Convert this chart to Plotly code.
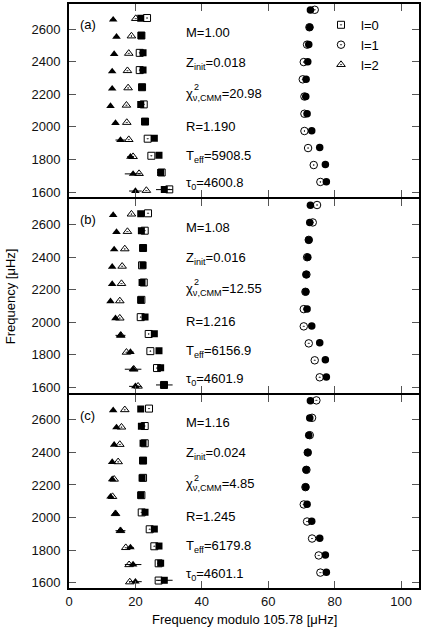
import plotly.graph_objects as go

# ---------------- data ----------------
# observed modes (filled symbols, with x error bars) - same in every panel
obs_l0_x = [28.7, 27.6, 27.1, 25.7, 22.9, 21.6, 22.0, 22.3, 22.3, 21.8, 21.6]
obs_l0_y = [1615.4, 1720.1, 1825.4, 1929.7, 2032.7, 2137.2, 2243.4, 2349.5, 2455.3, 2560.6, 2666.1]
obs_l0_err = [2.5, 1.0, 0.9, 0.8, 0.6, 0.5, 0.5, 0.5, 0.6, 0.8, 0.8]

obs_l1_x = [77.5, 77.2, 75.5, 73.1, 71.7, 71.3, 71.4, 71.9, 72.2, 72.5, 72.7]
obs_l1_y = [1664.2, 1769.7, 1873.8, 1977.1, 2081.5, 2186.9, 2292.8, 2399.1, 2505.2, 2611.3, 2717.2]
obs_l1_err = [0.8, 0.6, 0.5, 0.5, 0.4, 0.4, 0.4, 0.4, 0.5, 0.5, 0.6]

obs_l2_x = [20.0, 19.3, 18.5, 15.5, 14.0, 12.5, 13.0, 13.0, 13.6, 14.3, 13.3]
obs_l2_y = [1606.7, 1711.8, 1816.8, 1919.5, 2023.8, 2128.1, 2234.4, 2340.2, 2446.6, 2553.1, 2657.8]
obs_l2_err = [1.9, 2.5, 1.0, 1.5, 0.8, 0.6, 0.6, 0.6, 0.6, 0.8, 0.8]

# model modes (open symbols), panel (a)
a_l0_x = [30.2, 27.9, 24.8, 23.7, 22.9, 22.5, 22.0, 21.3, 21.3, 21.8, 23.5]
a_l0_y = [1616.9, 1720.4, 1823.1, 1927.7, 2032.7, 2138.1, 2243.4, 2348.5, 2454.3, 2560.6, 2668.0]
a_l1_x = [75.7, 73.7, 72.0, 70.9, 70.9, 70.9, 70.4, 70.7, 71.7, 72.4, 74.0]
a_l1_y = [1662.4, 1766.2, 1870.3, 1974.9, 2080.7, 2186.5, 2291.8, 2397.9, 2504.7, 2611.2, 2718.5]
a_l2_x = [23.3, 21.1, 19.3, 18.0, 17.4, 17.3, 17.8, 17.6, 18.0, 18.8, 20.1]
a_l2_y = [1610.0, 1713.6, 1817.6, 1922.0, 2027.2, 2132.9, 2239.2, 2344.8, 2451.0, 2557.6, 2664.6]

# panel (b)
b_l0_x = [28.6, 26.5, 24.5, 24.0, 21.6, 21.8, 22.5, 22.0, 22.3, 22.8, 23.8]
b_l0_y = [1615.3, 1719.0, 1822.8, 1928.0, 2031.4, 2137.4, 2243.9, 2349.2, 2455.3, 2561.6, 2668.3]
b_l1_x = [75.5, 74.0, 72.2, 70.7, 70.7, 71.2, 71.5, 71.7, 72.2, 73.4, 74.7]
b_l1_y = [1662.2, 1766.5, 1870.5, 1974.7, 2080.5, 2186.8, 2292.9, 2398.9, 2505.2, 2612.2, 2719.2]
b_l2_x = [20.8, 19.5, 17.3, 15.6, 15.3, 15.3, 15.8, 16.0, 16.8, 17.6, 18.8]
b_l2_y = [1607.5, 1712.0, 1815.6, 1919.6, 2025.1, 2130.9, 2237.2, 2343.2, 2449.8, 2556.4, 2663.3]

# panel (c)
c_l0_x = [27.0, 27.0, 25.7, 24.3, 21.9, 21.8, 22.3, 22.3, 22.8, 22.8, 24.1]
c_l0_y = [1613.7, 1719.5, 1824.0, 1928.3, 2031.7, 2137.4, 2243.7, 2349.5, 2455.8, 2561.6, 2668.6]
c_l1_x = [75.7, 75.2, 73.2, 71.7, 70.7, 71.2, 71.5, 71.9, 72.5, 73.2, 74.5]
c_l1_y = [1662.4, 1767.7, 1871.5, 1975.7, 2080.5, 2186.8, 2292.9, 2399.1, 2505.5, 2612.0, 2719.0]
c_l2_x = [18.3, 18.1, 17.1, 15.5, 14.0, 13.1, 13.6, 14.8, 15.3, 15.8, 16.8]
c_l2_y = [1605.0, 1710.6, 1815.4, 1919.5, 2023.8, 2128.7, 2235.0, 2342.0, 2448.3, 2554.6, 2661.3]

panel_labels = ["(a)", "(b)", "(c)"]
param_M = ["1.00", "1.08", "1.16"]
param_Z = ["0.018", "0.016", "0.024"]
param_chi = ["20.98", "12.55", "4.85"]
param_R = ["1.190", "1.216", "1.245"]
param_Teff = ["5908.5", "6156.9", "6179.8"]
param_tau = ["4600.8", "4601.9", "4601.1"]

delta_nu = "105.78"
y_ticks = [1600, 1800, 2000, 2200, 2400, 2600]
x_ticks = [0, 20, 40, 60, 80, 100]

# ---------------- figure ----------------
FONT = "Liberation Sans, Arial, sans-serif"
X_RANGE = [0, 105.4]
Y_RANGE = [1568, 2754]
fig = go.Figure()

models = [
    (a_l0_x, a_l0_y, a_l1_x, a_l1_y, a_l2_x, a_l2_y),
    (b_l0_x, b_l0_y, b_l1_x, b_l1_y, b_l2_x, b_l2_y),
    (c_l0_x, c_l0_y, c_l1_x, c_l1_y, c_l2_x, c_l2_y),
]

for i, (m0x, m0y, m1x, m1y, m2x, m2y) in enumerate(models):
    xa = "x" if i == 0 else f"x{i+1}"
    ya = "y" if i == 0 else f"y{i+1}"
    show = i == 0
    # model (open symbols)
    for mx, my, sym, sz, name in [
        (m0x, m0y, "square-open-dot", 7, "l=0"),
        (m1x, m1y, "circle-open-dot", 7.5, "l=1"),
        (m2x, m2y, "triangle-up-open-dot", 7.5, "l=2"),
    ]:
        fig.add_trace(go.Scatter(
            x=mx, y=my, mode="markers", xaxis=xa, yaxis=ya, name=name,
            showlegend=show,
            marker=dict(symbol=sym, size=sz, color="black",
                        line=dict(color="black", width=1)),
        ))
    # observations (filled symbols with error bars)
    for ox, oy, oe, sym, sz in [
        (obs_l0_x, obs_l0_y, obs_l0_err, "square", 7),
        (obs_l1_x, obs_l1_y, obs_l1_err, "circle", 7.5),
        (obs_l2_x, obs_l2_y, obs_l2_err, "triangle-up", 7.5),
    ]:
        fig.add_trace(go.Scatter(
            x=ox, y=oy, mode="markers", xaxis=xa, yaxis=ya, showlegend=False,
            marker=dict(symbol=sym, size=sz, color="black", line=dict(width=0)),
            error_x=dict(type="data", array=oe, color="black", thickness=1, width=0),
        ))

# three stacked panels; 2px gaps so neighbouring frame lines coincide
domains = [[0.66895, 1.0], [0.33447, 0.66553], [0.0, 0.33105]]


def axis_style():
    return dict(
        showline=True, linecolor="black", linewidth=2, mirror="allticks",
        ticks="inside", ticklen=7, tickwidth=1, tickcolor="#555555",
        showgrid=False, zeroline=False,
        tickfont=dict(family=FONT, size=13, color="#111111"),
    )


layout = dict(
    width=421, height=635,
    margin=dict(l=69, r=0, t=4, b=47),
    paper_bgcolor="white", plot_bgcolor="white",
    font=dict(family=FONT, size=13, color="black"),
    legend=dict(x=0.72, y=0.99, xanchor="left", yanchor="top",
                bgcolor="rgba(0,0,0,0)", font=dict(family=FONT, size=13, color="black"),
                itemwidth=30, tracegroupgap=0),
)
for i in range(3):
    xk = "xaxis" if i == 0 else f"xaxis{i+1}"
    yk = "yaxis" if i == 0 else f"yaxis{i+1}"
    ya = "y" if i == 0 else f"y{i+1}"
    xa = "x" if i == 0 else f"x{i+1}"
    layout[xk] = dict(axis_style(), range=X_RANGE, tickvals=x_ticks,
                      anchor=ya, domain=[0, 1], showticklabels=(i == 2))
    layout[yk] = dict(axis_style(), range=Y_RANGE, tickvals=y_ticks,
                      anchor=xa, domain=domains[i], ticklabelstandoff=4)
fig.update_layout(**layout)


def to_paper(i, xv, yv):
    d0, d1 = domains[i]
    px = (xv - X_RANGE[0]) / (X_RANGE[1] - X_RANGE[0])
    py = d0 + (yv - Y_RANGE[0]) / (Y_RANGE[1] - Y_RANGE[0]) * (d1 - d0)
    return px, py


annotations = []
text_rows = [2582, 2392, 2200, 2004, 1820, 1650]
for i in range(3):
    lines = [
        f"M={param_M[i]}",
        f"Z<sub>init</sub>={param_Z[i]}",
        f"χ<sub>ν,CMM</sub>={param_chi[i]}",
        f"R={param_R[i]}",
        f"T<sub>eff</sub>={param_Teff[i]}",
        f"τ<sub>0</sub>={param_tau[i]}",
    ]
    for txt, yv in zip(lines, text_rows):
        px, py = to_paper(i, 34.7, yv)
        annotations.append(dict(text=txt, x=px, y=py, xref="paper", yref="paper",
                                xanchor="left", yanchor="middle", showarrow=False,
                                font=dict(family=FONT, size=13, color="black")))
    px, py = to_paper(i, 36.9, text_rows[2] + 45)
    annotations.append(dict(text="2", x=px, y=py, xref="paper", yref="paper",
                            xanchor="left", yanchor="middle", showarrow=False,
                            font=dict(family=FONT, size=9, color="black")))
    px, py = to_paper(i, 2.7, 2629)
    annotations.append(dict(text=panel_labels[i], x=px, y=py, xref="paper", yref="paper",
                            xanchor="left", yanchor="middle", showarrow=False,
                            font=dict(family=FONT, size=13, color="black")))

annotations.append(dict(text="Frequency [μHz]", x=-0.168, y=0.5, xref="paper", yref="paper",
                        textangle=-90, xanchor="center", yanchor="middle", showarrow=False,
                        font=dict(family=FONT, size=13, color="black")))
annotations.append(dict(text=f"Frequency modulo {delta_nu} [μHz]", x=0.5, y=-0.0546,
                        xref="paper", yref="paper", xanchor="center", yanchor="middle",
                        showarrow=False, font=dict(family=FONT, size=13, color="black")))
fig.update_layout(annotations=annotations)

fig.write_html("out.html")
